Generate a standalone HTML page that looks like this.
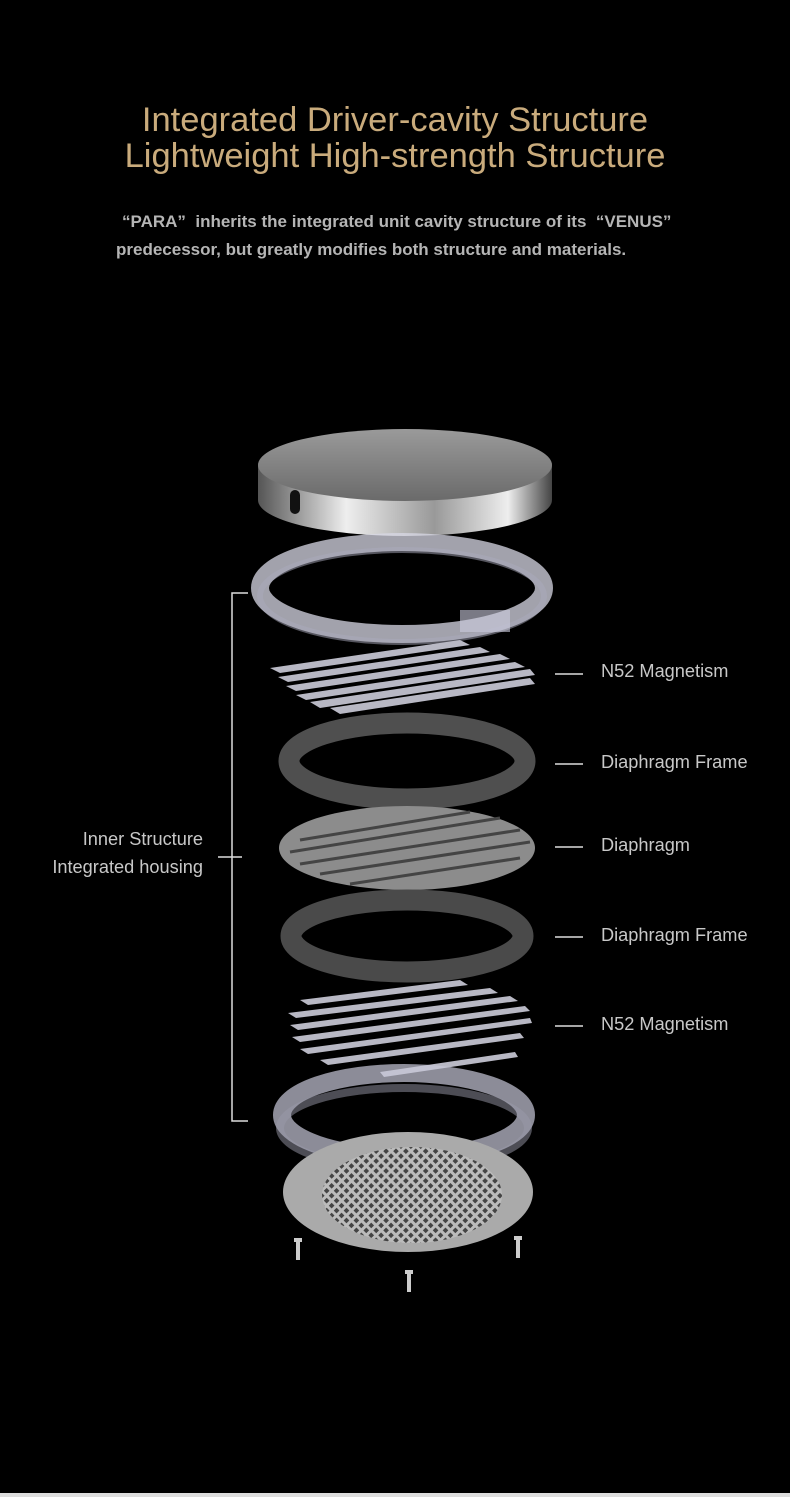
<!DOCTYPE html>
<html><head><meta charset="utf-8"><style>
html,body{margin:0;padding:0;background:#000;}
body{width:790px;height:1497px;position:relative;overflow:hidden;font-family:"Liberation Sans",sans-serif;}
.t{position:absolute;left:0;width:790px;text-align:center;color:#c9ab7c;font-size:34.5px;line-height:36px;}
.p{position:absolute;left:116px;color:#b5b5b5;font-size:17px;font-weight:bold;}
.l{position:absolute;color:#c8c8c8;font-size:18.2px;}
</style></head><body>
<div class="t" style="top:102px">Integrated Driver-cavity Structure</div>
<div class="t" style="top:138px">Lightweight High-strength Structure</div>
<div class="p" style="top:212px;left:122px">“PARA” &nbsp;inherits the integrated unit cavity structure of its &nbsp;“VENUS”</div>
<div class="p" style="top:240px">predecessor, but greatly modifies both structure and materials.</div>

<svg width="790" height="1497" style="position:absolute;left:0;top:0">
<defs>
<linearGradient id="side" x1="0" x2="1"><stop offset="0" stop-color="#555"/><stop offset=".3" stop-color="#eee"/><stop offset=".6" stop-color="#999"/><stop offset=".85" stop-color="#eee"/><stop offset="1" stop-color="#444"/></linearGradient>
<linearGradient id="topg" x1="0" y1="0" x2="0" y2="1"><stop offset="0" stop-color="#9a9a9a"/><stop offset="1" stop-color="#6a6a6a"/></linearGradient>
<pattern id="mesh" width="7" height="7" patternUnits="userSpaceOnUse" patternTransform="rotate(45)"><rect width="7" height="7" fill="#bbb"/><rect width="4" height="4" fill="#444"/></pattern>
</defs>
<path d="M258 465 L258 500 A147 36 0 0 0 552 500 L552 465 Z" fill="url(#side)"/>
<ellipse cx="405" cy="465" rx="147" ry="36" fill="url(#topg)"/>
<rect x="290" y="490" width="10" height="24" rx="5" fill="#111"/>
<ellipse cx="402" cy="588" rx="142" ry="46" fill="none" stroke="#d8d8e6" stroke-width="18" opacity=".75"/>
<ellipse cx="402" cy="596" rx="142" ry="46" fill="none" stroke="#aab" stroke-width="6" opacity=".5"/>
<rect x="460" y="610" width="50" height="22" fill="#ccd" opacity=".6"/>
<g fill="#b8b8c4">
<polygon points="270,668 460,640 470,645 280,673"/>
<polygon points="278,677 480,647 490,652 288,682"/>
<polygon points="286,686 500,654 510,659 296,691"/>
<polygon points="296,695 515,662 525,667 306,700"/>
<polygon points="310,702 530,669 535,675 320,708"/>
<polygon points="330,708 530,678 535,684 340,714"/>
</g>
<ellipse cx="407" cy="761" rx="118" ry="38" fill="none" stroke="#4f4f4f" stroke-width="21"/>
<ellipse cx="407" cy="848" rx="128" ry="42" fill="#8c8c8c"/>
<g stroke="#444" stroke-width="3">
<line x1="300" y1="840" x2="470" y2="812"/><line x1="290" y1="852" x2="500" y2="818"/>
<line x1="300" y1="864" x2="520" y2="830"/><line x1="320" y1="874" x2="530" y2="842"/>
<line x1="350" y1="884" x2="520" y2="858"/>
</g>
<ellipse cx="407" cy="936" rx="116" ry="36" fill="none" stroke="#4a4a4a" stroke-width="21"/>
<g fill="#b8b8c4">
<polygon points="300,1000 460,980 468,985 308,1005"/>
<polygon points="288,1013 490,988 498,993 296,1018"/>
<polygon points="290,1025 510,996 518,1001 298,1030"/>
<polygon points="292,1037 525,1006 530,1011 300,1042"/>
<polygon points="300,1049 530,1018 532,1023 308,1054"/>
<polygon points="320,1060 520,1033 524,1038 328,1065"/>
<polygon points="380,1072 515,1052 518,1057 384,1077"/>
</g>
<ellipse cx="404" cy="1115" rx="122" ry="42" fill="none" stroke="#c8c8d8" stroke-width="18" opacity=".7"/>
<ellipse cx="404" cy="1128" rx="124" ry="40" fill="none" stroke="#99a" stroke-width="8" opacity=".5"/>
<ellipse cx="408" cy="1192" rx="125" ry="60" fill="#aaa"/>
<ellipse cx="412" cy="1195" rx="90" ry="48" fill="url(#mesh)"/>
<g fill="#ccc"><rect x="296" y="1238" width="4" height="22"/><rect x="516" y="1236" width="4" height="22"/><rect x="407" y="1270" width="4" height="22"/>
<rect x="294" y="1238" width="8" height="4"/><rect x="514" y="1236" width="8" height="4"/><rect x="405" y="1270" width="8" height="4"/></g>
<g stroke="#ddd" stroke-width="1.5" fill="none">
<path d="M248 593 H232 V1121 H248"/><line x1="218" y1="857" x2="242" y2="857"/>
<line x1="555" y1="674" x2="583" y2="674"/><line x1="555" y1="764" x2="583" y2="764"/>
<line x1="555" y1="847" x2="583" y2="847"/><line x1="555" y1="937" x2="583" y2="937"/>
<line x1="555" y1="1026" x2="583" y2="1026"/>
</g>
<rect x="0" y="1493" width="790" height="4" fill="#ddd"/>
</svg>
<div class="l" style="top:661px;left:601px">N52 Magnetism</div>
<div class="l" style="top:752px;left:601px">Diaphragm Frame</div>
<div class="l" style="top:835px;left:601px">Diaphragm</div>
<div class="l" style="top:925px;left:601px">Diaphragm Frame</div>
<div class="l" style="top:1014px;left:601px">N52 Magnetism</div>
<div class="l" style="top:829px;left:0;width:203px;text-align:right">Inner Structure</div>
<div class="l" style="top:857px;left:0;width:203px;text-align:right">Integrated housing</div>
</body></html>
